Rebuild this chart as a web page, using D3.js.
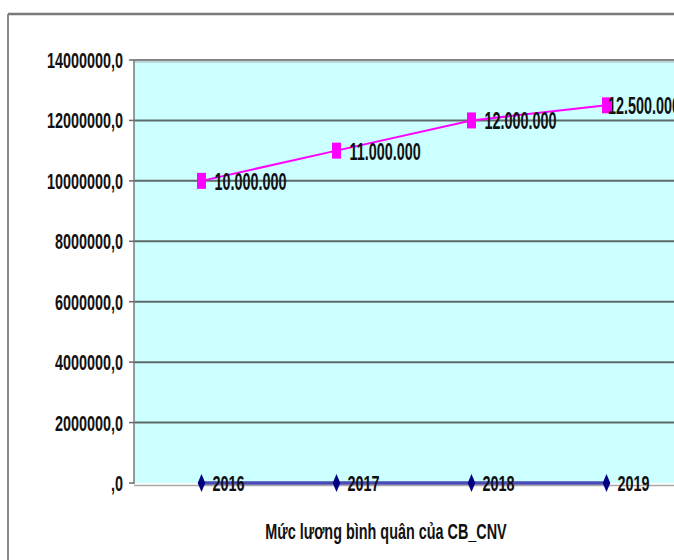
<!DOCTYPE html>
<html><head><meta charset="utf-8">
<script src="https://cdn.jsdelivr.net/npm/d3@7"></script>
<style>body{margin:0;background:#fff}svg{display:block}text{font-family:"Liberation Sans",Arial,sans-serif;font-weight:bold;fill:#111}</style>
</head><body>
<svg id="c" width="674" height="560"></svg>
<script>
const categories = ["2016","2017","2018","2019"];
const yearSeries = [2016, 2017, 2018, 2019];
const salarySeries = [10000000, 11000000, 12000000, 12500000];
const salaryLabels = ["10.000.000","11.000.000","12.000.000","12.500.000"];
const yTicks = [0,2000000,4000000,6000000,8000000,10000000,12000000,14000000];
const yTickLabels = [",0","2000000,0","4000000,0","6000000,0","8000000,0","10000000,0","12000000,0","14000000,0"];
const axisTitle = "Mức lương bình quân của CB_CNV";

const svg = d3.select("#c");
const W = 674, H = 560;
const frame = {left: 8, top: 14, right: 680};
const plot = {left: 134, top: 60, right: 674, bottom: 483};
const SX = 0.655;

const x = d3.scalePoint().domain(categories).range([plot.left, plot.right]).padding(0.5);
const y = d3.scaleLinear().domain([0, 14000000]).range([plot.bottom, plot.top]);

// outer frame
svg.append("line").attr("x1", frame.left).attr("x2", frame.left).attr("y1", frame.top).attr("y2", H)
  .attr("stroke", "#8a8a8a").attr("stroke-width", 2);
svg.append("line").attr("x1", frame.left).attr("x2", W).attr("y1", frame.top).attr("y2", frame.top)
  .attr("stroke", "#7a7a7a").attr("stroke-width", 2.5);

// plot area
svg.append("rect").attr("x", plot.left).attr("y", plot.top)
  .attr("width", plot.right - plot.left).attr("height", plot.bottom - plot.top).attr("fill", "#ccffff");

// gridlines
svg.append("g").selectAll("line").data(yTicks.filter(d => d > 0 && d < 14000000)).join("line")
  .attr("x1", plot.left).attr("x2", plot.right).attr("y1", d => y(d)).attr("y2", d => y(d))
  .attr("stroke", "#5c6a6a").attr("stroke-width", 2);

// plot top border
svg.append("line").attr("x1", plot.left).attr("x2", plot.right).attr("y1", y(14000000)).attr("y2", y(14000000))
  .attr("stroke", "#858585").attr("stroke-width", 2);
svg.append("line").attr("x1", plot.left).attr("x2", plot.right).attr("y1", y(14000000) + 2).attr("y2", y(14000000) + 2)
  .attr("stroke", "#b8c8c8").attr("stroke-width", 1.5);
// bottom shadow
svg.append("line").attr("x1", plot.left).attr("x2", plot.right).attr("y1", y(0) + 2.5).attr("y2", y(0) + 2.5)
  .attr("stroke", "#a8a8a8").attr("stroke-width", 1.5);

// y axis line & ticks
svg.append("line").attr("x1", plot.left).attr("x2", plot.left).attr("y1", plot.top).attr("y2", plot.bottom + 1)
  .attr("stroke", "#7a7a7a").attr("stroke-width", 1.5);
svg.append("g").selectAll("line").data(yTicks).join("line")
  .attr("x1", plot.left - 5).attr("x2", plot.left).attr("y1", d => y(d)).attr("y2", d => y(d))
  .attr("stroke", "#6a6a6a").attr("stroke-width", 1.5);
svg.append("g").selectAll("text").data(yTicks).join("text")
  .attr("transform", d => `translate(${plot.left - 11},${y(d) + 8}) scale(${SX},1)`)
  .attr("text-anchor", "end").style("font-size", "22px")
  .text((d, i) => yTickLabels[i]);

// year series (navy line at ~0 with diamonds)
const line = d3.line().x((d, i) => x(categories[i])).y(d => y(d));
svg.append("path").datum(yearSeries).attr("d", line).attr("fill", "none")
  .attr("stroke", "#4a4ab4").attr("stroke-width", 3.5);
svg.append("g").selectAll("path").data(yearSeries).join("path")
  .attr("transform", (d, i) => `translate(${x(categories[i])},${y(d)})`)
  .attr("d", "M0,-9L3.8,0L0,9L-3.8,0Z").attr("fill", "#000080");
svg.append("g").selectAll("text").data(yearSeries).join("text")
  .attr("transform", (d, i) => `translate(${x(categories[i]) + 11},${y(d) + 8}) scale(${SX},1)`)
  .style("font-size", "22px").text(d => d);

// salary series
svg.append("path").datum(salarySeries).attr("d", line).attr("fill", "none")
  .attr("stroke", "#ff00ff").attr("stroke-width", 2);
svg.append("g").selectAll("rect").data(salarySeries).join("rect")
  .attr("x", (d, i) => x(categories[i]) - 4.5).attr("y", d => y(d) - 8)
  .attr("width", 9).attr("height", 16).attr("fill", "#ff00ff");
const DSX = 0.6;
svg.append("g").selectAll("text").data(salarySeries).join("text")
  .attr("transform", function(d, i) {
    const lw = 120 * DSX;
    const lx = Math.min(x(categories[i]) + 13, frame.right - lw);
    return `translate(${lx},${y(d) + 9}) scale(${DSX},1)`;
  })
  .style("font-size", "24px").text((d, i) => salaryLabels[i]);

// axis title
svg.append("text").attr("transform", `translate(386,539) scale(${SX},1)`)
  .attr("text-anchor", "middle").style("font-size", "22px").text(axisTitle);
</script>
</body></html>
